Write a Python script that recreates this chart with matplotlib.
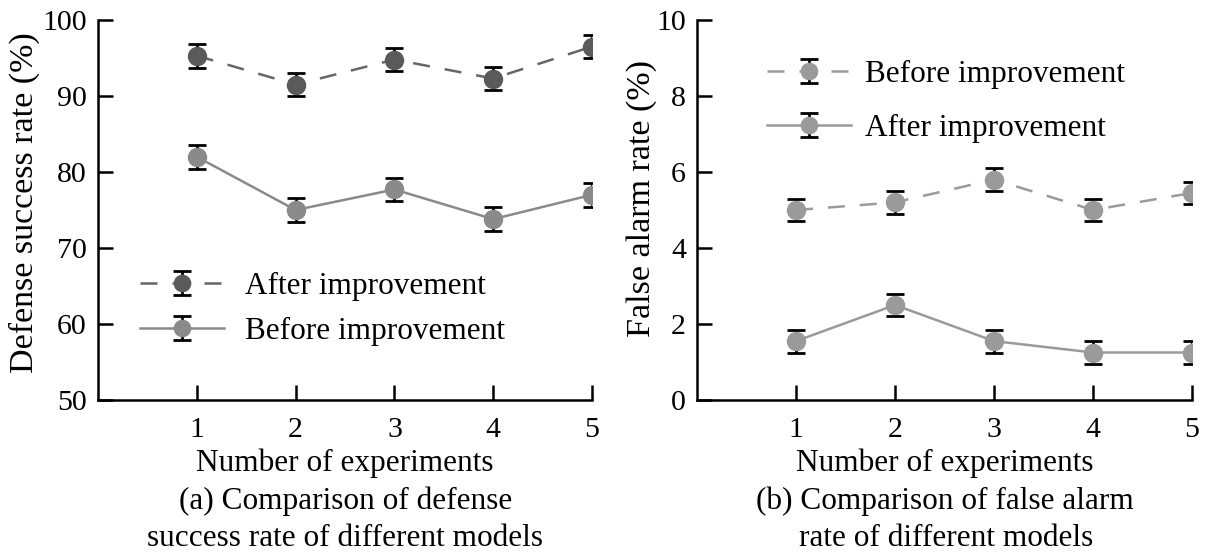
import matplotlib
matplotlib.use("Agg")
import matplotlib.pyplot as plt
from matplotlib.legend_handler import HandlerErrorbar
from matplotlib.container import ErrorbarContainer

plt.rcParams['font.family'] = ['Liberation Serif', 'DejaVu Serif']

experiments = [1, 2, 3, 4, 5]
defense_after = [95.3, 91.5, 94.8, 92.3, 96.5]
defense_before = [82.0, 75.0, 77.7, 73.8, 77.0]
defense_err = [1.55, 1.55, 1.55, 1.55, 1.55]
false_before = [5.0, 5.2, 5.8, 5.0, 5.45]
false_after = [1.55, 2.5, 1.55, 1.25, 1.25]
false_err = [0.3, 0.3, 0.3, 0.3, 0.3]

W, H = 1209, 554
fig = plt.figure(figsize=(W/100, H/100), dpi=100)

def px(x0, y0, x1, y1):
    return [x0/W, 1 - y1/H, (x1-x0)/W, (y1-y0)/H]

ax1 = fig.add_axes(px(98, 20, 592, 400))
ax2 = fig.add_axes(px(697, 20, 1192, 400))

fs = 21.5
fs_cap = 22.5
fs_leg = 22.5
common = dict(ecolor='black', elinewidth=2, capsize=6.5, capthick=2,
              marker='o', markersize=13, linewidth=1.8)
hmap = {ErrorbarContainer: HandlerErrorbar(xerr_size=0.37, yerr_size=0.37)}

ax1.errorbar(experiments, defense_after, yerr=defense_err, color='#666666',
             mfc='#5a5a5a', mec='#5a5a5a', dashes=(6.8, 6), label='After improvement', **common)
ax1.errorbar(experiments, defense_before, yerr=defense_err, color='#8a8a8a',
             mfc='#8a8a8a', mec='#8a8a8a', linestyle='-', label='Before improvement', **common)
ax1.set_ylim(50, 100)
ax1.set_yticks([50, 60, 70, 80, 90, 100])
ax1.set_ylabel('Defense success rate (%)', fontsize=24.5)
ax1.yaxis.set_label_coords(-0.117, 0.52)
ax1.legend(loc='upper left', bbox_to_anchor=(0.085, 0.337), frameon=False, fontsize=fs_leg,
           handlelength=2.7, handletextpad=0.65, labelspacing=0.51,
           borderpad=0, borderaxespad=0, markerscale=0.9, handler_map=hmap)

ax2.errorbar(experiments, false_before, yerr=false_err, color='#9a9a9a',
             mfc='#9a9a9a', mec='#9a9a9a', dashes=(6.8, 6), label='Before improvement', **common)
ax2.errorbar(experiments, false_after, yerr=false_err, color='#9a9a9a',
             mfc='#9a9a9a', mec='#9a9a9a', linestyle='-', label='After improvement', **common)
ax2.set_ylim(0, 10)
ax2.set_yticks([0, 2, 4, 6, 8, 10])
ax2.set_ylabel('False alarm rate (%)', fontsize=24.5)
ax2.yaxis.set_label_coords(-0.081, 0.53)
ax2.legend(loc='upper left', bbox_to_anchor=(0.141, 0.895), frameon=False, fontsize=fs_leg,
           handlelength=2.7, handletextpad=0.45, labelspacing=0.8,
           borderpad=0, borderaxespad=0, markerscale=0.9, handler_map=hmap)

for ax in (ax1, ax2):
    ax.set_xlim(0, 5)
    ax.set_xticks(experiments)
    ax.spines['top'].set_visible(False)
    ax.spines['right'].set_visible(False)
    ax.spines['left'].set_linewidth(1.8)
    ax.spines['bottom'].set_linewidth(1.8)
    ax.tick_params(direction='in', length=11, width=1.8, labelsize=fs, pad=8)
    ax.tick_params(axis='x', pad=12)
    ax.set_xlabel('Number of experiments', fontsize=fs_cap)
    ax.xaxis.label.set_va('baseline')
    ax.xaxis.set_label_coords(0.5, -(471 - 400) / 380)

fig.text(346/W, 1 - 509/H, '(a) Comparison of defense', ha='center', va='baseline', fontsize=fs_cap)
fig.text(345/W, 1 - 546/H, 'success rate of different models', ha='center', va='baseline', fontsize=fs_cap)
fig.text(945/W, 1 - 509/H, '(b) Comparison of false alarm', ha='center', va='baseline', fontsize=fs_cap)
fig.text(946/W, 1 - 546/H, 'rate of different models', ha='center', va='baseline', fontsize=fs_cap)

fig.savefig('out.png', dpi=100)
